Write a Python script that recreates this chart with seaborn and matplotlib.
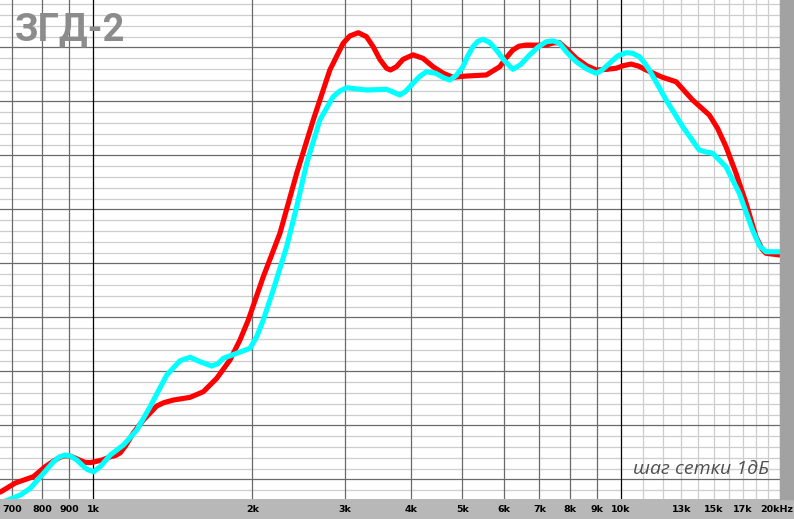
import numpy as np
import pandas as pd
import matplotlib
matplotlib.use("Agg")
import matplotlib.pyplot as plt
import matplotlib.transforms as mtransforms
import seaborn as sns

# ---- data (frequency in Hz, level in dB, grid step 1 dB) ----
red_freq = [666, 711, 769, 810, 846, 865, 884, 903, 923, 944, 964, 985, 1000, 1040, 1076,
            1100, 1123, 1150, 1190, 1243, 1318, 1360, 1417, 1524, 1615, 1712, 1814, 1895,
            1965, 2098, 2256, 2427, 2609, 2805, 2972, 3060, 3176, 3292, 3388, 3488, 3592,
            3654, 3751, 3862, 4033, 4212, 4401, 4600, 4800, 5090, 5554, 5886, 6050, 6235,
            6400, 6610, 6900, 7213, 7430, 7643, 7900, 8219, 8600, 8968, 9350, 9784, 10100,
            10440, 10800, 11150, 11980, 12710, 13660, 14690, 15230, 15800, 16510, 17250,
            18010, 18500, 18810, 19950]
red_db = [-1.18, -0.34, 0.24, 1.17, 1.79, 2.05, 2.19, 2.15, 1.97, 1.75, 1.57, 1.55, 1.6, 1.8, 2.09,
          2.2, 2.44, 3.1, 4.29, 5.49, 6.79, 7.1, 7.34, 7.59, 8.11, 9.35, 11.05, 12.9,
          14.75, 18.76, 22.78, 28.33, 33.27, 37.9, 40.37, 41.05, 41.35, 40.98, 40.06, 38.89, 38.06,
          37.9, 38.2, 38.89, 39.3, 38.98, 38.2, 37.6, 37.22, 37.34, 37.44, 38.2, 39.0, 39.75,
          40.1, 40.21, 40.2, 40.21, 40.4, 40.43, 39.8, 38.98, 38.3, 37.9, 37.95, 38.06, 38.3,
          38.45, 38.25, 37.9, 37.22, 36.81, 35.12, 33.73, 32.5, 30.8, 28.33, 25.56,
          22.46, 21.3, 20.93, 20.77]

cyan_freq = [666, 696, 727, 759, 804, 840, 860, 884, 905, 930, 950, 972, 1000, 1030, 1076,
             1140, 1208, 1280, 1377, 1459, 1524, 1592, 1675, 1720, 1762, 1868, 1980, 2038,
             2098, 2191, 2323, 2427, 2535, 2685, 2846, 2930, 3017, 3150, 3292, 3592, 3700,
             3805, 3900, 4033, 4150, 4276, 4450, 4600, 4732, 4870, 5014, 5120, 5239, 5350,
             5472, 5630, 5800, 6000, 6235, 6450, 6707, 6950, 7213, 7430, 7643, 7900, 8219,
             8600, 8968, 9200, 9504, 9850, 10220, 10500, 10830, 11050, 11310, 12170, 13080,
             14060, 14500, 14910, 15800, 16750, 17740, 18300, 18810, 19950]
cyan_db = [-2.2, -1.82, -1.45, -0.83, 0.56, 1.63, 2.05, 2.25, 2.15, 1.79, 1.35, 0.93, 0.7, 1.17, 2.25,
           3.18, 4.56, 6.72, 9.66, 10.98, 11.3, 10.89, 10.49, 10.7, 11.2, 11.67, 12.13, 13.2,
           14.75, 17.53, 21.54, 25.24, 29.26, 33.27, 35.43, 35.95, 36.26, 36.15, 36.05, 36.11, 35.85,
           35.58, 35.9, 36.67, 37.3, 37.74, 37.6, 37.2, 36.97, 37.4, 38.2, 39.2, 40.06, 40.55,
           40.74, 40.45, 39.75, 38.8, 37.96, 38.4, 39.29, 40.0, 40.52, 40.6, 40.37, 39.5, 38.67,
           38.0, 37.59, 37.9, 38.52, 39.2, 39.5, 39.45, 39.13, 38.6, 37.9, 35.12, 32.65,
           30.49, 30.3, 30.19, 28.94, 26.48, 23.08, 21.6, 21.07, 21.07]

tick_freqs = [700, 800, 900, 1000, 2000, 3000, 4000, 5000, 6000, 7000, 8000, 9000, 10000,
              13000, 15000, 17000, 20000]
tick_labels = ["700", "800", "900", "1k", "2k", "3k", "4k", "5k", "6k", "7k", "8k", "9k", "10k",
               "13k", "15k", "17k", "20kHz"]

title_text = "ЗГД-2"
note_text = "шаг сетки 1дБ"

# ---- figure ----
W, H = 794, 519
fig = plt.figure(figsize=(W / 100, H / 100), dpi=100, facecolor="#b8b8b8")
ax = fig.add_axes([0, (H - 499.3) / H, 780 / W, 499.3 / H])
ax.set_facecolor("white")
fig.patches.append(matplotlib.patches.Rectangle((780 / W, (H - 499.3) / H), 14 / W, 499.3 / H,
                                                transform=fig.transFigure, color="#a2a2a2",
                                                zorder=0))

ax.set_xscale("log")
ax.set_xlim(665, 19950)
ax.set_ylim(-1.85, 44.38)

# grid
for v in range(-1, 45):
    if v % 5 == 0:
        ax.axhline(v, color="#6a6a6a", lw=0.9, zorder=1)
    else:
        ax.axhline(v, color="#cdcdcd", lw=0.9, zorder=0.5)
for f in [700, 800, 900] + list(range(2000, 10000, 1000)):
    ax.axvline(f, color="#6a6a6a", lw=0.9, zorder=1)
for f in [1000, 10000]:
    ax.axvline(f, color="black", lw=0.9, zorder=1.1)
for f in range(11000, 20001, 1000):
    ax.axvline(f, color="#cdcdcd", lw=0.9, zorder=0.6)

df = pd.concat([
    pd.DataFrame({"freq": red_freq, "db": red_db, "s": "red"}),
    pd.DataFrame({"freq": cyan_freq, "db": cyan_db, "s": "cyan"}),
])
sns.lineplot(data=df, x="freq", y="db", hue="s", hue_order=["red", "cyan"],
             palette={"red": "#ff0000", "cyan": "#00ffff"}, lw=3.7, sort=False,
             estimator=None, legend=False, ax=ax, zorder=3)
for ln in ax.get_lines()[-2:]:
    ln.set_solid_joinstyle("round")
    ln.set_solid_capstyle("round")

for sp in ax.spines.values():
    sp.set_visible(False)
ax.set_xlabel("")
ax.set_ylabel("")
ax.set_yticks([])
ax.xaxis.set_minor_locator(matplotlib.ticker.NullLocator())
ax.set_xticks(tick_freqs)
ax.set_xticklabels(tick_labels, fontsize=6.8, fontweight="bold", color="black",
                   family="DejaVu Sans")
ax.tick_params(axis="x", length=0, pad=4)
last = ax.get_xticklabels()[-1]
last.set_transform(last.get_transform() +
                   mtransforms.ScaledTranslation(-3 / 100, 0, fig.dpi_scale_trans))

ax.text(15 / 780, 1 - 11 / 499.3, title_text, transform=ax.transAxes, ha="left", va="top",
        fontsize=27.5, fontweight="bold", color="#8c8c8c", family=["Roboto", "DejaVu Sans"],
        zorder=5)
ax.text(769 / 780, 1 - 474 / 499.3, note_text, transform=ax.transAxes, ha="right",
        va="baseline", fontsize=14, style="italic", color="#505050",
        family=["Open Sans", "DejaVu Sans"], zorder=5)

fig.savefig("out.png", dpi=100, facecolor=fig.get_facecolor())
